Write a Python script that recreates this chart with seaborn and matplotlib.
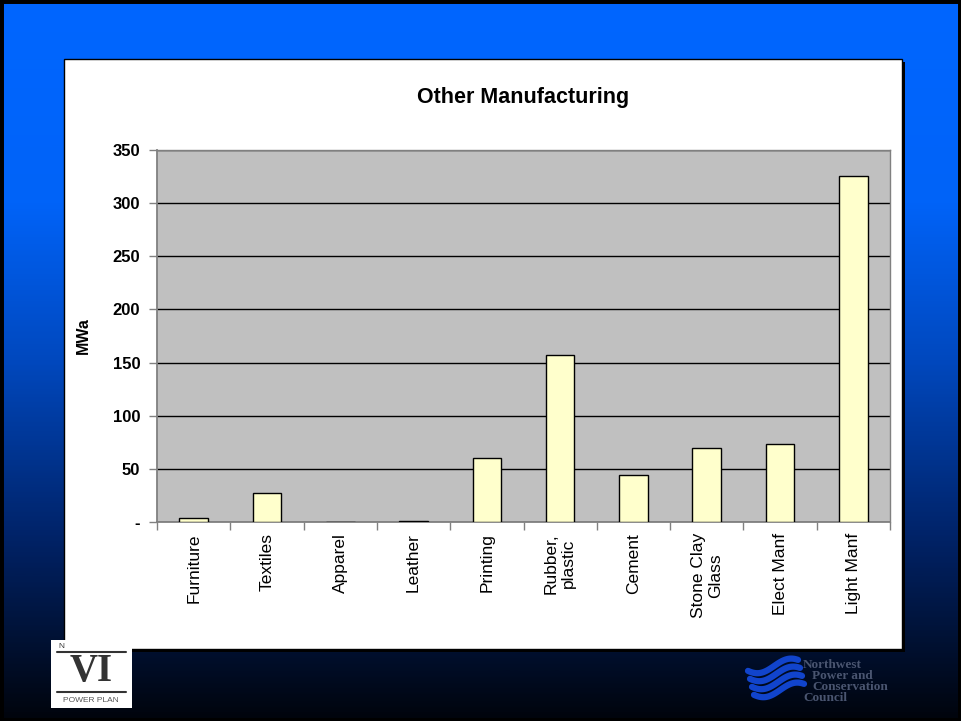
import numpy as np
import pandas as pd
import matplotlib
matplotlib.use("Agg")
import matplotlib.pyplot as plt
import seaborn as sns
from matplotlib.patches import Rectangle
from matplotlib.colors import LinearSegmentedColormap

categories = ["Furniture", "Textiles", "Apparel", "Leather", "Printing",
              "Rubber,\nplastic", "Cement", "Stone Clay\nGlass", "Elect Manf", "Light Manf"]
values = [4, 27, 0, 1, 60, 157, 44, 70, 73, 326]
yticks = [0, 50, 100, 150, 200, 250, 300, 350]
ytick_labels = ["-", "50", "100", "150", "200", "250", "300", "350"]
title = "Other Manufacturing"
ylabel = "MWa"

sns.set_theme(style="white")
plt.rcParams["font.family"] = ["Liberation Sans", "DejaVu Sans"]
plt.rcParams["text.color"] = "black"
plt.rcParams["axes.labelcolor"] = "black"
plt.rcParams["xtick.color"] = "black"
plt.rcParams["ytick.color"] = "black"

W, H = 961, 721
fig = plt.figure(figsize=(W / 100, H / 100), dpi=100)

# background gradient
bg = fig.add_axes([0, 0, 1, 1])
bg.set_axis_off()
cmap = LinearSegmentedColormap.from_list(
    "bgg", [(0.0, "#0066FF"), (0.28, "#0063F8"), (0.5, "#0048BE"),
            (0.75, "#002266"), (0.9, "#001030"), (1.0, "#00040C")])
grad = np.linspace(0, 1, 400).reshape(-1, 1)
bg.imshow(grad, aspect="auto", cmap=cmap, extent=[0, 1, 0, 1], origin="upper")
bg.set_xlim(0, 1)
bg.set_ylim(0, 1)
bg.add_patch(Rectangle((0, 0), 1, 1, fill=False, edgecolor="black", lw=5,
                       transform=bg.transAxes))

def fx(px):
    return px / W

def fy(py):
    return 1 - py / H

# chart area white box with shadow
bg.add_patch(Rectangle((fx(67), fy(652)), fx(838), 590 / H, facecolor="black",
                       edgecolor="none"))
bg.add_patch(Rectangle((fx(64), fy(649)), fx(838), 590 / H, facecolor="white",
                       edgecolor="black", lw=1))

# logos (approximate)
bg.add_patch(Rectangle((fx(51), fy(708)), fx(81), 68 / H, facecolor="white",
                       edgecolor="none"))
bg.plot([fx(57), fx(126)], [fy(652), fy(652)], color="#333333", lw=1.5)
bg.plot([fx(57), fx(126)], [fy(692), fy(692)], color="#333333", lw=1.5)
bg.text(fx(91), fy(672), "VI", ha="center", va="center", fontsize=28,
        family="Liberation Serif", color="#333333", fontweight="bold")
bg.text(fx(91), fy(700), "POWER PLAN", ha="center", va="center", fontsize=6,
        color="#555555")
bg.text(fx(58), fy(646), "N", ha="left", va="center", fontsize=6, color="#333333")

t = np.linspace(0, 1, 50)
for k, off in enumerate([0, 8, 16, 24]):
    xs = fx(748 + 50 * t + k * 2)
    ys = fy(668 + off + 6 * np.sin(t * np.pi * 1.6 + 0.5) - 4 * t)
    bg.plot(xs, ys, color="#1144CC", lw=4.5, solid_capstyle="round")
for i, line in enumerate(["Northwest", " Power and", " Conservation", "Council"]):
    bg.text(fx(803 + (9 if line.startswith(" ") else 0)), fy(665 + i * 11), line.strip(),
            ha="left", va="center", fontsize=9.5, family="Liberation Serif",
            fontweight="bold", color="#4A5570")

# main plot
ax = fig.add_axes([fx(157), fy(522), fx(733), 372 / H])
df = pd.DataFrame({"category": categories, "value": values})
sns.barplot(data=df, x="category", y="value", ax=ax, color="#FFFFCC",
            saturation=1, width=0.39, edgecolor="black", linewidth=1, zorder=3)
ax.set_facecolor("#C0C0C0")
ax.set_xlim(-0.5, len(categories) - 0.5)
ax.set_ylim(0, 350)
ax.set_yticks(yticks)
ax.set_yticklabels(ytick_labels, fontweight="bold", fontsize=12)
ax.yaxis.grid(True, color="black", lw=1, zorder=1)
ax.set_axisbelow(True)
for s in ["top", "right"]:
    ax.spines[s].set_color("#808080")
    ax.spines[s].set_linewidth(1)
for s in ["left", "bottom"]:
    ax.spines[s].set_color("#808080")
    ax.spines[s].set_linewidth(1.3)
ax.tick_params(axis="y", which="major", direction="out", length=6, width=1,
               color="#808080", left=True, pad=6)
ax.set_xticks(range(len(categories)))
ax.set_xticklabels(categories, rotation=90, fontsize=12.5, ha="center", va="top",
                   multialignment="center")
ax.tick_params(axis="x", which="major", length=0, pad=8)
ax.set_xticks(np.arange(-0.5, len(categories), 1), minor=True)
ax.tick_params(axis="x", which="minor", direction="out", length=6, width=1,
               color="#808080", bottom=True)
ax.set_xlabel("")
ax.set_ylabel(ylabel, fontweight="bold", fontsize=11.5, labelpad=16)
ax.set_title(title, fontweight="bold", fontsize=15.5, pad=34, color="black")
fig.savefig("out.png", dpi=100)
